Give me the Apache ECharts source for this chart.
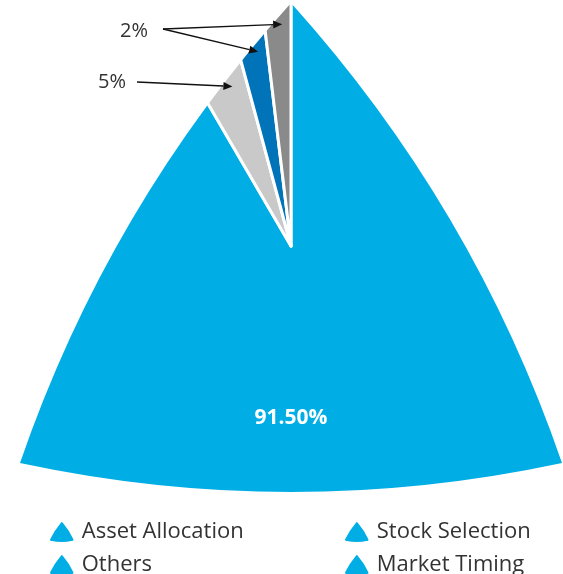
<!DOCTYPE html>
<html><head><meta charset="utf-8">
<script src="https://cdn.jsdelivr.net/npm/echarts@6/dist/echarts.min.js"></script>
<style>html,body{margin:0;padding:0;background:#fff}#c{width:563px;height:574px}</style>
</head><body><div id="c"></div>
<script>
// ---- data ----
const categories = ['Asset Allocation', 'Stock Selection', 'Others', 'Market Timing'];
const shares = [91.6, 4.2, 2.3, 1.9];
const valueLabels = ['91.50%', '5%', '2%', '2%'];

// ---- styles / layout ----
const sliceColors = ['#00AEE5', '#C8C9C8', '#0073B9', '#8A8A8A'];
const CX = 291, CY = 246;
const arrowRadius = [null, 170, 197, 222];
const calloutStart = [null, [137, 82], [163, 29], [163, 29]];
const calloutText = [null, [112, 82], [134, 31], null];
const FONT = '"Open Sans", "Noto Sans", sans-serif';
const legendIcon = 'path://M9.2,1.2 Q10.5,-0.4 11.8,1.2 Q17.5,8 20.6,14.8 Q21.3,16.6 19.4,17.1 Q10.5,19.2 1.6,17.1 Q-0.3,16.6 0.4,14.8 Q3.5,8 9.2,1.2 Z';
const maskPath = 'M-5 -5 L568 -5 L568 579 L-5 579 Z M291 3 Q108.5 205.7 20 463 Q291 521 562 463 Q473.5 205.7 291 3 Z';

const total = shares.reduce((a, b) => a + b, 0);
function angleOf(cum) { return (90 - cum / total * 360) * Math.PI / 180; }

const legendCommon = {
  orient: 'vertical', top: 520, height: 80, padding: 0,
  itemWidth: 26, itemHeight: 22, itemGap: 9, z: 20,
  icon: legendIcon, itemStyle: { color: '#00AEE5' },
  textStyle: { fontFamily: FONT, fontSize: 22, color: '#333', lineHeight: 22, padding: [0, 0, 0, 2] },
  selectedMode: false
};

const chart = echarts.init(document.getElementById('c'));
chart.setOption({
  animation: false,
  backgroundColor: '#fff',
  legend: [
    Object.assign({ data: [categories[0], categories[2]], left: 48 }, legendCommon),
    Object.assign({ data: [categories[1], categories[3]], left: 343 }, legendCommon)
  ],
  series: [
    {
      type: 'pie', z: 2,
      center: [CX, CY], radius: 350, startAngle: 90, clockwise: true,
      emphasis: { disabled: true },
      itemStyle: { borderColor: '#ffffff', borderWidth: 3 },
      label: { show: false },
      labelLine: { show: false },
      data: categories.map((name, i) => ({
        name, value: shares[i],
        itemStyle: { color: sliceColors[i] },
        label: i === 0 ? {
          show: true, position: 'center', offset: [0, 172],
          formatter: valueLabels[0], color: '#fff', fontFamily: FONT, fontSize: 21, fontWeight: 'bold'
        } : { show: false }
      }))
    },
    {
      type: 'custom', coordinateSystem: 'none', z: 5, silent: true,
      data: [0],
      renderItem: function () {
        return { type: 'path', shape: { pathData: maskPath }, style: { fill: '#ffffff' } };
      }
    },
    {
      type: 'custom', coordinateSystem: 'none', z: 10, silent: true,
      data: shares.map((v, i) => [i, v]),
      renderItem: function (params, api) {
        const i = params.dataIndex;
        if (i === 0) return null;
        let cumStart = 0;
        for (let k = 0; k < i; k++) cumStart += shares[k];
        const a = angleOf(cumStart + shares[i] * 2 / 3);
        const r = arrowRadius[i];
        const tip = [CX + r * Math.cos(a), CY - r * Math.sin(a)];
        const s = calloutStart[i];
        const dx = tip[0] - s[0], dy = tip[1] - s[1];
        const len = Math.sqrt(dx * dx + dy * dy);
        const ux = dx / len, uy = dy / len;
        const hl = 9, hw = 4;
        const bx = tip[0] - ux * hl, by = tip[1] - uy * hl;
        const children = [
          { type: 'line', shape: { x1: s[0], y1: s[1], x2: bx, y2: by }, style: { stroke: '#111', lineWidth: 1.3 } },
          { type: 'polygon', shape: { points: [tip, [bx - uy * hw, by + ux * hw], [bx + uy * hw, by - ux * hw]] }, style: { fill: '#111' } }
        ];
        if (calloutText[i]) {
          children.push({
            type: 'text',
            style: { text: valueLabels[i], x: calloutText[i][0], y: calloutText[i][1], align: 'center', verticalAlign: 'middle',
                     fill: '#333', fontFamily: FONT, fontSize: 20 }
          });
        }
        return { type: 'group', children };
      }
    }
  ]
});
</script>
</body></html>
